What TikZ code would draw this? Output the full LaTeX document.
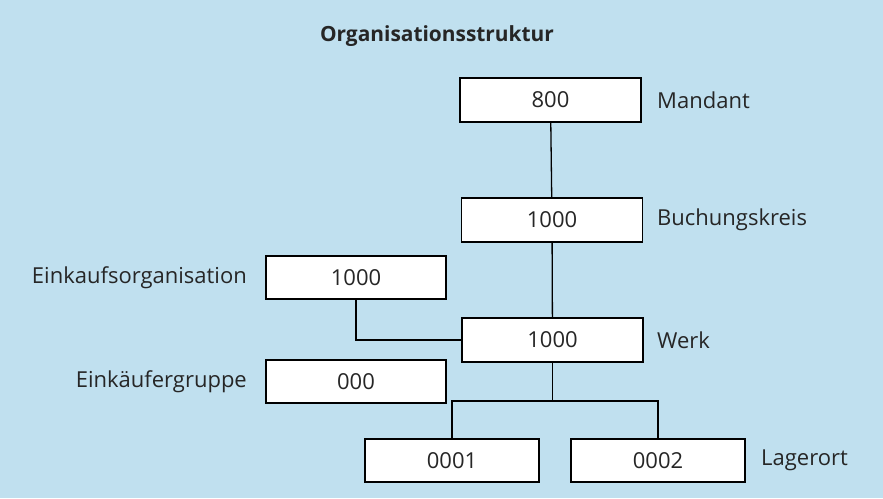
\documentclass[tikz,border=0pt]{standalone}
\usepackage{fontspec}
\setmainfont{Open Sans}
\usepackage{tikz}
\usetikzlibrary{positioning}
\definecolor{bgblue}{HTML}{C0E0EF}
\definecolor{txtgray}{HTML}{262626}
\newcommand{\boxw}{181pt}
\newcommand{\boxh}{44pt}
\newcommand{\fsize}{\fontsize{22}{26}\selectfont}

\begin{document}
\begin{tikzpicture}[x=1pt,y=-1pt,
	orgbox/.style={draw=black, fill=white, line width=1.3pt, minimum width=\boxw, minimum height=\boxh, inner sep=0pt, font=\fsize, text=txtgray},
	orglabel/.style={font=\fsize, text=txtgray, inner sep=0pt},
	conn/.style={draw=black, line width=1.3pt}]

	\fill[bgblue] (0,0) rectangle (883,498);
	\useasboundingbox (0,0) rectangle (883,498);
	%\draw[help lines] (0,0) grid[step=50] (883,498);

	\node[font=\fsize\bfseries, text=txtgray, scale=0.95] (title) at (437,36) {Organisationsstruktur};

	% main column
	\node[orgbox] (mandant) at (550.5,100) {800};
	\node[orgbox] (bukrs) at (552,220) {1000};
	\node[orgbox] (werk) at (552.5,340) {1000};

	% purchasing side
	\node[orgbox, minimum width=180pt, minimum height=43pt] (ekorg) at (356,277.5) {1000};
	\node[orgbox, minimum width=180pt, minimum height=43pt] (ekgrp) at (356,381.5) {000};

	% storage locations
	\node[orgbox, minimum width=174pt, minimum height=43pt] (lgort1) at (452,460.5) {0001};
	\node[orgbox, minimum width=174pt, minimum height=43pt] (lgort2) at (658,460.5) {0002};

	% labels
	\node[orglabel, anchor=west] (lmandant) at (657,100) {Mandant};
	\node[orglabel, anchor=west] (lbukrs) at (657,220) {Buchungskreis};
	\node[orglabel, anchor=west] (lwerk) at (657,340) {Werk};
	\node[orglabel, anchor=west] (llgort) at (761,460.5) {Lagerort};
	\node[orglabel, anchor=east] (lekorg) at (247,277.5) {Einkaufsorganisation};
	\node[orglabel, anchor=east] (lekgrp) at (247,381.5) {Einkäufergruppe};

	% connectors
	\coordinate (split) at (552.5,401);
	\draw[conn] (mandant) -- (bukrs);
	\draw[conn] (bukrs) -- (werk);
	\draw[conn] (ekorg.south) |- (werk.west);
	\draw[conn] (werk.south) -- (split);
	\draw[conn] (lgort1.north) |- (split) -| (lgort2.north);
\end{tikzpicture}
\end{document}
